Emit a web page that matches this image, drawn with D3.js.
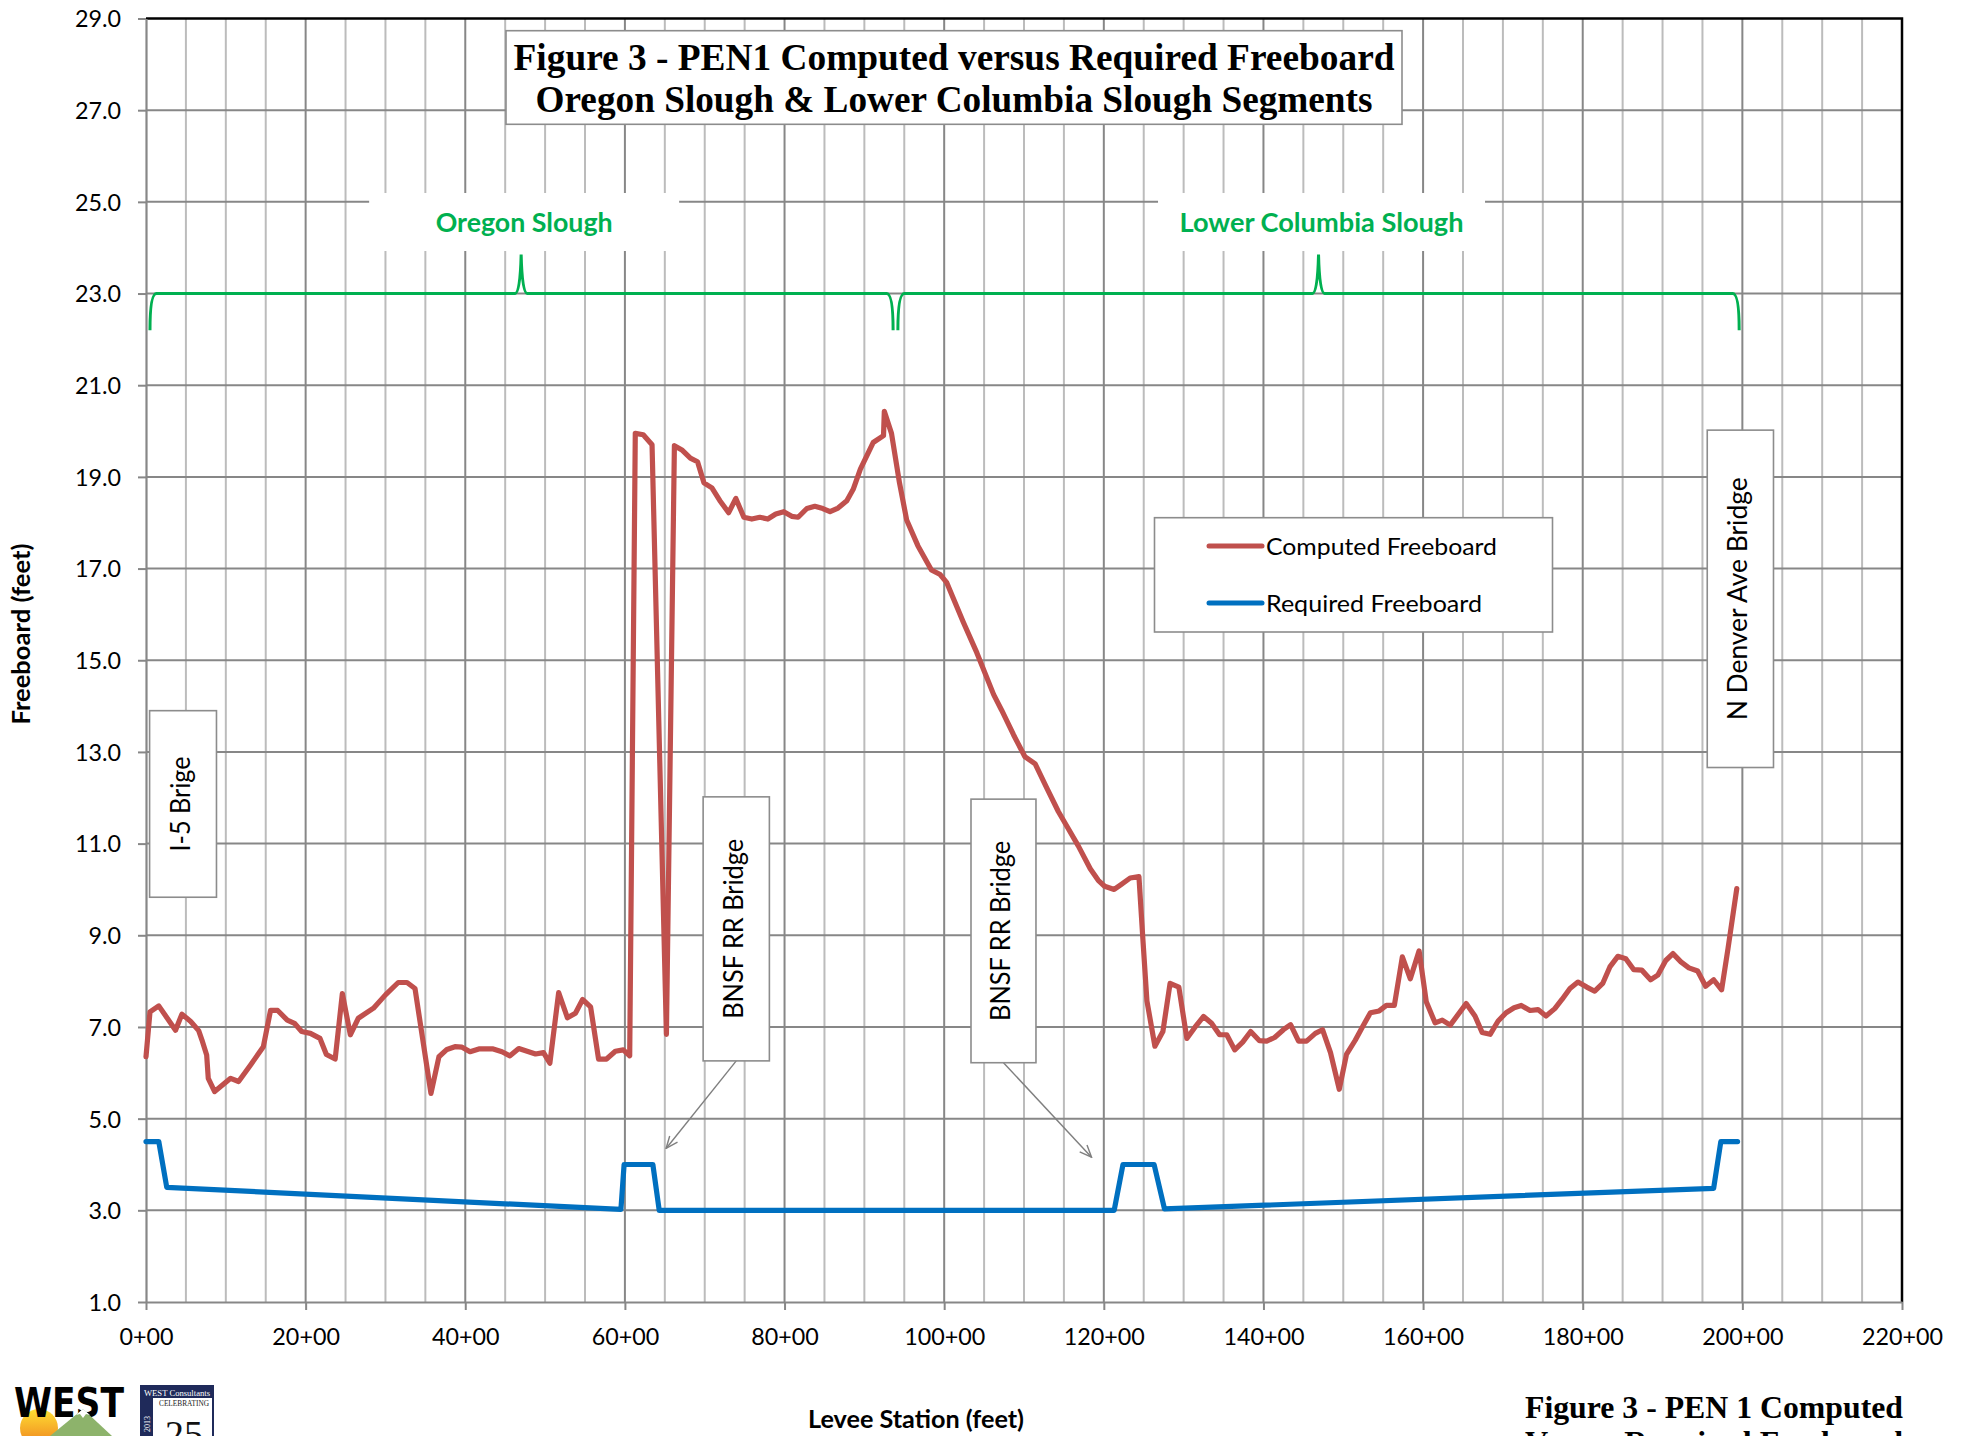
<!DOCTYPE html>
<html>
<head>
<meta charset="utf-8">
<script src="https://cdn.jsdelivr.net/npm/d3@7"></script>
<style>
  html, body { margin: 0; padding: 0; background: #ffffff; }
  svg { display: block; }
</style>
</head>
<body>
<svg id="chart" width="1969" height="1436"></svg>
<script>
// ---------------- DATA ----------------
// Levee station in hundreds of feet (xx+00) and computed freeboard (feet)
const stations = [
  0.0, 0.5, 1.6, 3.7, 4.5, 5.6, 6.6, 7.0, 7.6, 7.8, 8.6, 10.6, 11.6, 13.1, 14.7, 15.6, 16.5, 17.7, 18.6, 19.5,
  20.6, 21.8, 22.6, 23.7, 24.6, 25.6, 26.6, 28.5, 30.0, 31.6, 32.7, 33.7, 35.7, 36.7, 37.7, 38.7, 39.6, 40.6, 41.7, 43.5,
  44.6, 45.6, 46.7, 48.8, 49.8, 50.6, 51.7, 52.8, 53.8, 54.7, 55.7, 56.7, 57.7, 58.8, 59.8, 60.6, 61.3, 62.3, 63.4, 65.2,
  66.2, 67.2, 68.2, 69.1, 69.9, 70.9, 71.9, 73.0, 73.9, 74.9, 75.9, 76.9, 77.9, 78.9, 79.9, 80.9, 81.7, 82.8, 83.8, 84.8,
  85.7, 86.7, 87.8, 88.6, 89.5, 91.1, 92.4, 92.5, 93.4, 94.4, 95.3, 96.7, 98.4, 99.5, 100.3, 101.1, 102.4, 104.1, 106.2, 107.2,
  108.7, 110.1, 111.4, 112.8, 114.3, 115.3, 116.8, 118.3, 119.3, 120.1, 121.3, 122.2, 123.3, 124.4, 124.9, 125.4, 126.4, 127.4, 128.3, 129.4,
  130.4, 131.4, 132.5, 133.5, 134.5, 135.4, 136.4, 137.4, 138.4, 139.5, 140.4, 141.4, 142.5, 143.4, 144.4, 145.4, 146.5, 147.4, 148.4, 149.5,
  150.4, 151.5, 152.4, 153.4, 154.5, 155.4, 156.4, 157.4, 158.4, 159.5, 160.4, 161.5, 162.4, 163.4, 165.4, 166.5, 167.4, 168.4, 169.4, 170.4,
  171.4, 172.3, 173.4, 174.4, 175.4, 176.5, 177.4, 178.4, 179.4, 180.5, 181.5, 182.5, 183.4, 184.4, 185.4, 186.4, 187.4, 188.5, 189.4, 190.4,
  191.3, 192.3, 193.3, 194.4, 195.4, 196.4, 197.4, 198.2, 199.3
];
const computed = [
  6.35, 7.33, 7.46, 6.93, 7.28, 7.12, 6.92, 6.72, 6.39, 5.88, 5.59, 5.88, 5.81, 6.17, 6.57, 7.36, 7.36, 7.15, 7.08, 6.90,
  6.86, 6.75, 6.40, 6.30, 7.73, 6.83, 7.19, 7.41, 7.70, 7.97, 7.97, 7.84, 5.55, 6.35, 6.51, 6.57, 6.56, 6.46, 6.52, 6.52,
  6.46, 6.37, 6.53, 6.41, 6.44, 6.21, 7.75, 7.20, 7.30, 7.60, 7.44, 6.30, 6.30, 6.47, 6.50, 6.37, 19.95, 19.92, 19.70, 6.84,
  19.68, 19.58, 19.41, 19.33, 18.87, 18.76, 18.48, 18.22, 18.53, 18.12, 18.08, 18.12, 18.08, 18.19, 18.24, 18.14, 18.12, 18.31, 18.36, 18.31,
  18.24, 18.32, 18.48, 18.73, 19.17, 19.75, 19.90, 20.43, 19.95, 18.87, 18.06, 17.50, 16.97, 16.87, 16.70, 16.37, 15.83, 15.16, 14.25, 13.91,
  13.37, 12.90, 12.74, 12.23, 11.70, 11.40, 10.95, 10.45, 10.20, 10.07, 10.00, 10.11, 10.25, 10.28, 8.90, 7.57, 6.58, 6.90, 7.95, 7.87,
  6.75, 6.99, 7.23, 7.08, 6.83, 6.83, 6.50, 6.67, 6.90, 6.70, 6.69, 6.77, 6.94, 7.05, 6.69, 6.69, 6.86, 6.94, 6.44, 5.64,
  6.40, 6.71, 7.00, 7.31, 7.35, 7.47, 7.47, 8.53, 8.05, 8.66, 7.55, 7.09, 7.15, 7.04, 7.51, 7.24, 6.88, 6.84, 7.13, 7.31,
  7.42, 7.47, 7.36, 7.38, 7.24, 7.40, 7.60, 7.84, 7.98, 7.87, 7.78, 7.95, 8.31, 8.54, 8.49, 8.25, 8.24, 8.03, 8.13, 8.45,
  8.60, 8.42, 8.29, 8.22, 7.89, 8.03, 7.81, 8.71, 10.02
];
// Required freeboard (feet)
const reqStations = [0.0, 1.6, 2.6, 59.5, 59.9, 63.5, 64.3, 121.3, 122.4, 126.3, 127.6, 196.4, 197.3, 199.4];
const required    = [4.50, 4.50, 3.50, 3.02, 4.00, 4.00, 3.00, 3.00, 4.00, 4.00, 3.03, 3.48, 4.50, 4.50];

const xTickValues = [0, 20, 40, 60, 80, 100, 120, 140, 160, 180, 200, 220];
const yTickValues = [1, 3, 5, 7, 9, 11, 13, 15, 17, 19, 21, 23, 25, 27, 29];
const seriesNames = ["Computed Freeboard", "Required Freeboard"];

// Levee segments (stations)
const segmentNames = ["Oregon Slough", "Lower Columbia Slough"];
const segmentStart = [0.5, 94.2];
const segmentMid   = [47.0, 146.9];
const segmentEnd   = [93.6, 199.6];

// Bridge callouts
const bridgeNames = ["I-5 Brige", "BNSF RR Bridge", "BNSF RR Bridge", "N Denver Ave Bridge"];

// ---------------- LAYOUT ----------------
const W = 1969, H = 1436;
const svg = d3.select("#chart");
const x = d3.scaleLinear().domain([0, 220]).range([146, 1902]);
const y = d3.scaleLinear().domain([1, 29]).range([1302, 18.5]);
const SANS = "Lato, 'Open Sans', sans-serif";
const SERIF = "'Liberation Serif', 'Times New Roman', serif";
const RED = "#C0504D", BLUE = "#0070C0", GREEN = "#00B050";
const GRID_MAJOR = "#878787", GRID_MINOR = "#bcbcbc", BOXSTROKE = "#8c8c8c";

// callout box geometry in data coordinates
const calloutLayout = [
  { x0: 0.45, x1: 8.83, y0: 13.9, y1: 9.83, len: 95 },
  { x0: 69.8, x1: 78.1, y0: 12.02, y1: 6.26, ax: 65.16, ay: 4.35, len: 180 },
  { x0: 103.36, x1: 111.5, y0: 11.97, y1: 6.22, ax: 118.46, ay: 4.16, len: 180 },
  { x0: 195.6, x1: 203.9, y0: 20.02, y1: 12.66, len: 243 }
];
// segment label box widths / text widths (px)
const segBoxWidth = [310, 327];
const segTextLen = [177, 284];

svg.append("rect").attr("width", W).attr("height", H).attr("fill", "#fff");

const defs = svg.append("defs");
defs.append("marker").attr("id", "arrow")
  .attr("viewBox", "0 0 14 12").attr("refX", 13).attr("refY", 6)
  .attr("markerWidth", 14).attr("markerHeight", 12)
  .attr("markerUnits", "userSpaceOnUse").attr("orient", "auto")
  .append("path").attr("d", "M1,1 L13,6 L1,11").attr("fill", "none")
  .attr("stroke", "#7f7f7f").attr("stroke-width", 1.4);
const sg = defs.append("linearGradient").attr("id", "sunGrad").attr("x1", 0).attr("y1", 0).attr("x2", 0).attr("y2", 1);
sg.append("stop").attr("offset", "0%").attr("stop-color", "#FFE033");
sg.append("stop").attr("offset", "100%").attr("stop-color", "#EE7F1E");

// ---------------- GRID ----------------
const grid = svg.append("g");
const minorX = d3.range(5, 220, 5).filter(v => v % 20 !== 0);
grid.selectAll("line.vmin").data(minorX).join("line").attr("class", "vmin")
  .attr("x1", d => x(d)).attr("x2", d => x(d)).attr("y1", y(29)).attr("y2", y(1))
  .attr("stroke", GRID_MINOR).attr("stroke-width", 2);
grid.selectAll("line.vmaj").data(xTickValues.filter(v => v > 0 && v < 220)).join("line").attr("class", "vmaj")
  .attr("x1", d => x(d)).attr("x2", d => x(d)).attr("y1", y(29)).attr("y2", y(1))
  .attr("stroke", GRID_MAJOR).attr("stroke-width", 2);
grid.selectAll("line.hmaj").data(yTickValues.filter(v => v > 1 && v < 29)).join("line").attr("class", "hmaj")
  .attr("x1", x(0)).attr("x2", x(220)).attr("y1", d => y(d)).attr("y2", d => y(d))
  .attr("stroke", GRID_MAJOR).attr("stroke-width", 2);

// plot border (top & right black)
svg.append("path")
  .attr("d", `M${x(0)},${y(29)} L${x(220)},${y(29)} L${x(220)},${y(1)}`)
  .attr("fill", "none").attr("stroke", "#000").attr("stroke-width", 2.5);

// ---------------- AXES ----------------
const yAxis = svg.append("g").attr("transform", `translate(${x(0)},0)`)
  .call(d3.axisLeft(y).tickValues(yTickValues).tickSize(8).tickSizeOuter(0).tickPadding(17)
    .tickFormat(d3.format(".1f")));
const xAxis = svg.append("g").attr("transform", `translate(0,${y(1)})`)
  .call(d3.axisBottom(x).tickValues(xTickValues).tickSize(8).tickSizeOuter(0).tickPadding(18)
    .tickFormat(d => d + "+00"));
[yAxis, xAxis].forEach(a => {
  a.select(".domain").attr("stroke", GRID_MAJOR).attr("stroke-width", 2.2);
  a.selectAll(".tick line").attr("stroke", GRID_MAJOR).attr("stroke-width", 2);
  a.selectAll(".tick text").attr("font-family", SANS).attr("font-size", 23.3).attr("fill", "#000");
});
yAxis.selectAll(".tick text").attr("dy", "0.36em");

// axis titles
svg.append("text").attr("transform", `translate(30,634) rotate(-90)`)
  .attr("text-anchor", "middle").attr("font-family", SANS).attr("font-weight", 700)
  .attr("font-size", 24).attr("textLength", 181).attr("lengthAdjust", "spacingAndGlyphs")
  .text("Freeboard (feet)");
svg.append("text").attr("x", 916).attr("y", 1428)
  .attr("text-anchor", "middle").attr("font-family", SANS).attr("font-weight", 700)
  .attr("font-size", 24).attr("textLength", 216).attr("lengthAdjust", "spacingAndGlyphs")
  .text("Levee Station (feet)");

// ---------------- SEGMENT BRACES ----------------
segmentNames.forEach((name, i) => {
  const cx = x(segmentMid[i]) + 3;
  svg.append("rect").attr("x", cx - segBoxWidth[i] / 2).attr("y", 193).attr("width", segBoxWidth[i]).attr("height", 58)
    .attr("fill", "#fff");
  svg.append("text").attr("x", cx).attr("y", 232).attr("text-anchor", "middle")
    .attr("font-family", SANS).attr("font-weight", 700).attr("font-size", 26)
    .attr("textLength", segTextLen[i]).attr("lengthAdjust", "spacingAndGlyphs")
    .attr("fill", GREEN).text(name);
  const xs = x(segmentStart[i]), xm = x(segmentMid[i]), xe = x(segmentEnd[i]);
  const yb = y(23.0), yt = y(22.2), yp = y(23.85), c = 6.5, h = 6;
  const d = `M${xs},${yt} Q${xs},${yb} ${xs + c},${yb} L${xm - h},${yb} Q${xm - 1},${yb} ${xm},${yp} ` +
            `Q${xm + 1},${yb} ${xm + h},${yb} L${xe - c},${yb} Q${xe},${yb} ${xe},${yt}`;
  svg.append("path").attr("d", d).attr("fill", "none").attr("stroke", GREEN).attr("stroke-width", 3);
});

// ---------------- SERIES ----------------
const compData = stations.map((s, i) => [s, computed[i]]);
const reqData = reqStations.map((s, i) => [s, required[i]]);
const line = d3.line().x(d => x(d[0])).y(d => y(d[1]));
svg.append("path").datum(compData).attr("d", line).attr("fill", "none")
  .attr("stroke", RED).attr("stroke-width", 5.2).attr("stroke-linejoin", "round").attr("stroke-linecap", "round");
svg.append("path").datum(reqData).attr("d", line).attr("fill", "none")
  .attr("stroke", BLUE).attr("stroke-width", 5.2).attr("stroke-linejoin", "round").attr("stroke-linecap", "round");

// ---------------- CALLOUTS ----------------
bridgeNames.forEach((name, i) => {
  const L = calloutLayout[i];
  const bx0 = x(L.x0), bx1 = x(L.x1), by0 = y(L.y0), by1 = y(L.y1);
  if (L.ax !== undefined) {
    svg.append("line").attr("x1", (bx0 + bx1) / 2).attr("y1", by1).attr("x2", x(L.ax)).attr("y2", y(L.ay))
      .attr("stroke", "#7f7f7f").attr("stroke-width", 1.4).attr("marker-end", "url(#arrow)");
  }
  svg.append("rect").attr("x", bx0).attr("y", by0).attr("width", bx1 - bx0).attr("height", by1 - by0)
    .attr("fill", "#fff").attr("stroke", BOXSTROKE).attr("stroke-width", 1.6);
  svg.append("text").attr("transform", `translate(${(bx0 + bx1) / 2 + 7},${(by0 + by1) / 2}) rotate(-90)`)
    .attr("text-anchor", "middle").attr("font-family", SANS).attr("font-size", 26).attr("fill", "#000")
    .attr("textLength", L.len).attr("lengthAdjust", "spacingAndGlyphs")
    .text(name);
});

// ---------------- LEGEND ----------------
const legendTextLen = [231, 216];
const lg = svg.append("g");
lg.append("rect").attr("x", 1154.5).attr("y", 517.7).attr("width", 398).attr("height", 114.3)
  .attr("fill", "#fff").attr("stroke", BOXSTROKE).attr("stroke-width", 1.6);
[RED, BLUE].forEach((col, i) => {
  const ly = 546 + i * 57;
  lg.append("line").attr("x1", 1209).attr("x2", 1262).attr("y1", ly).attr("y2", ly)
    .attr("stroke", col).attr("stroke-width", 5).attr("stroke-linecap", "round");
  lg.append("text").attr("x", 1266).attr("y", ly + 8.5).attr("font-family", SANS).attr("font-size", 24)
    .attr("textLength", legendTextLen[i]).attr("lengthAdjust", "spacingAndGlyphs")
    .attr("fill", "#000").text(seriesNames[i]);
});

// ---------------- TITLE ----------------
svg.append("rect").attr("x", 506).attr("y", 30.7).attr("width", 896).attr("height", 93.6)
  .attr("fill", "#fff").attr("stroke", BOXSTROKE).attr("stroke-width", 1.6);
svg.append("text").attr("x", 954).attr("y", 70).attr("text-anchor", "middle")
  .attr("font-family", SERIF).attr("font-weight", 700).attr("font-size", 37.5)
  .attr("textLength", 881).attr("lengthAdjust", "spacingAndGlyphs")
  .text("Figure 3 - PEN1 Computed versus Required Freeboard");
svg.append("text").attr("x", 954).attr("y", 112).attr("text-anchor", "middle")
  .attr("font-family", SERIF).attr("font-weight", 700).attr("font-size", 37.5)
  .attr("textLength", 837).attr("lengthAdjust", "spacingAndGlyphs")
  .text("Oregon Slough & Lower Columbia Slough Segments");

// bottom-right caption
svg.append("text").attr("x", 1525).attr("y", 1418)
  .attr("font-family", SERIF).attr("font-weight", 700).attr("font-size", 31)
  .attr("textLength", 378).attr("lengthAdjust", "spacingAndGlyphs")
  .text("Figure 3 - PEN 1 Computed");
svg.append("text").attr("x", 1525).attr("y", 1453)
  .attr("font-family", SERIF).attr("font-weight", 700).attr("font-size", 31)
  .attr("textLength", 378).attr("lengthAdjust", "spacingAndGlyphs")
  .text("Versus Required Freeboard");

// ---------------- LOGOS ----------------
const logo = svg.append("g");
logo.append("circle").attr("cx", 39).attr("cy", 1428).attr("r", 19).attr("fill", "url(#sunGrad)");
logo.append("text").attr("x", 14).attr("y", 1417).attr("font-family", "'DejaVu Sans', sans-serif")
  .attr("font-weight", 900).attr("font-size", 40).attr("textLength", 110).attr("lengthAdjust", "spacingAndGlyphs")
  .attr("fill", "#000").text("WEST");
logo.append("path").attr("d", "M50,1436 L83,1409 L112,1436 Z").attr("fill", "#8DB36B");
logo.append("path").attr("d", "M83,1409 L76,1415 L80,1414 L83,1418 L86,1414 L90,1415 Z").attr("fill", "#fff");

const badge = svg.append("g");
badge.append("rect").attr("x", 141).attr("y", 1386).attr("width", 72).attr("height", 60)
  .attr("fill", "#fff").attr("stroke", "#1f2a5a").attr("stroke-width", 2);
badge.append("rect").attr("x", 141).attr("y", 1386).attr("width", 72).attr("height", 12).attr("fill", "#1f2a5a");
badge.append("rect").attr("x", 141).attr("y", 1398).attr("width", 12).attr("height", 40).attr("fill", "#1f2a5a");
badge.append("text").attr("x", 177).attr("y", 1395.5).attr("text-anchor", "middle").attr("font-family", SERIF)
  .attr("font-size", 9).attr("fill", "#fff").attr("textLength", 66).attr("lengthAdjust", "spacingAndGlyphs")
  .text("WEST Consultants");
badge.append("text").attr("transform", "translate(150,1424) rotate(-90)").attr("text-anchor", "middle")
  .attr("font-family", SERIF).attr("font-size", 8).attr("fill", "#fff").text("2013");
badge.append("text").attr("x", 184).attr("y", 1406).attr("text-anchor", "middle").attr("font-family", SERIF)
  .attr("font-size", 8).attr("fill", "#222").attr("textLength", 50).attr("lengthAdjust", "spacingAndGlyphs")
  .text("CELEBRATING");
badge.append("text").attr("x", 184).attr("y", 1447).attr("text-anchor", "middle").attr("font-family", SERIF)
  .attr("font-size", 38).attr("fill", "#111").text("25");
</script>
</body>
</html>
